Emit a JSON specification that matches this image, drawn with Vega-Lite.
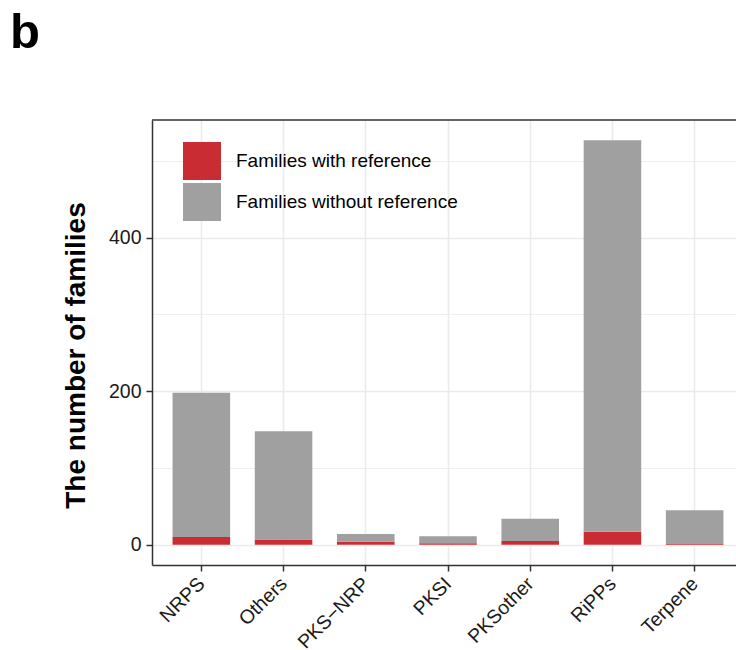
{
  "$schema": "https://vega.github.io/schema/vega-lite/v6.json",
  "width": 584,
  "height": 445,
  "autosize": "none",
  "padding": {"left": 152, "top": 120, "right": 0, "bottom": 85},
  "background": "white",
  "title": {"text": "b", "anchor": "start", "frame": "group", "fontSize": 49, "fontWeight": "bold", "font": "Liberation Sans", "color": "black", "dx": -142, "offset": 61},
  "data": {"values": [
    {"type": "NRPS", "group": "Families with reference", "count": 10},
    {"type": "NRPS", "group": "Families without reference", "count": 188},
    {"type": "Others", "group": "Families with reference", "count": 7},
    {"type": "Others", "group": "Families without reference", "count": 141},
    {"type": "PKS−NRP", "group": "Families with reference", "count": 4},
    {"type": "PKS−NRP", "group": "Families without reference", "count": 10},
    {"type": "PKSI", "group": "Families with reference", "count": 2},
    {"type": "PKSI", "group": "Families without reference", "count": 9},
    {"type": "PKSother", "group": "Families with reference", "count": 5},
    {"type": "PKSother", "group": "Families without reference", "count": 29},
    {"type": "RiPPs", "group": "Families with reference", "count": 17},
    {"type": "RiPPs", "group": "Families without reference", "count": 510},
    {"type": "Terpene", "group": "Families with reference", "count": 1},
    {"type": "Terpene", "group": "Families without reference", "count": 44}
  ]},
  "layer": [
    {
      "mark": {"type": "bar"},
      "encoding": {
        "x": {
          "field": "type", "type": "nominal",
          "sort": ["NRPS", "Others", "PKS−NRP", "PKSI", "PKSother", "RiPPs", "Terpene"],
          "scale": {"range": [0, 592], "paddingInner": 0.3, "paddingOuter": 0.25},
          "axis": {
            "title": null, "labelAngle": -45, "labelAlign": "right", "labelBaseline": "top",
            "labelFontSize": 19.5, "labelFont": "Liberation Sans", "labelColor": "#1a1a1a", "labelPadding": 3, "labelOffset": -6,
            "tickColor": "#333333", "tickSize": 6, "tickWidth": 1.5,
            "domainColor": "#333333", "domainWidth": 1.5,
            "grid": true, "gridColor": "#EBEBEB", "gridWidth": 1.6, "bandPosition": 0.5
          }
        },
        "y": {
          "field": "count", "type": "quantitative", "stack": "zero",
          "scale": {"domain": [-26.35, 553.35], "nice": false, "zero": false},
          "axis": {
            "title": "The number of families", "titleFontSize": 28, "titleFontWeight": "bold",
            "titleFont": "Liberation Sans", "titleColor": "black", "titlePadding": 18, "titleY": 235,
            "values": [0, 100, 200, 300, 400, 500],
            "labelExpr": "datum.value % 200 === 0 ? datum.label : ''",
            "labelFontSize": 19.5, "labelFont": "Liberation Sans", "labelColor": "#1a1a1a", "labelPadding": 5,
            "tickColor": "#333333", "tickSize": 6, "tickWidth": 1.5,
            "tickOpacity": {"condition": {"test": "datum.value % 200 === 0", "value": 1}, "value": 0},
            "domainColor": "#333333", "domainWidth": 1.5,
            "grid": true, "gridColor": "#EBEBEB",
            "gridWidth": {"condition": {"test": "datum.value % 200 === 0", "value": 1.6}, "value": 0.8}
          }
        },
        "color": {
          "field": "group", "type": "nominal",
          "scale": {"domain": ["Families with reference", "Families without reference"], "range": ["#C92D33", "#A0A0A0"]},
          "legend": {
            "orient": "none", "legendX": 31, "legendY": 22, "title": null,
            "symbolType": "square", "symbolSize": 1444, "symbolStrokeWidth": 0, "symbolOpacity": 1,
            "labelFontSize": 19, "labelFont": "Liberation Sans", "labelColor": "black",
            "labelOffset": 15, "rowPadding": 3, "padding": 0, "labelLimit": 400
          }
        },
        "order": {"field": "group", "sort": "ascending"}
      }
    },
    {
      "data": {"values": [{}]},
      "mark": {"type": "rule", "color": "#333333", "strokeWidth": 1.5},
      "encoding": {"y": {"datum": 553.35}}
    }
  ],
  "config": {"view": {"stroke": null}, "font": "Liberation Sans"}
}
